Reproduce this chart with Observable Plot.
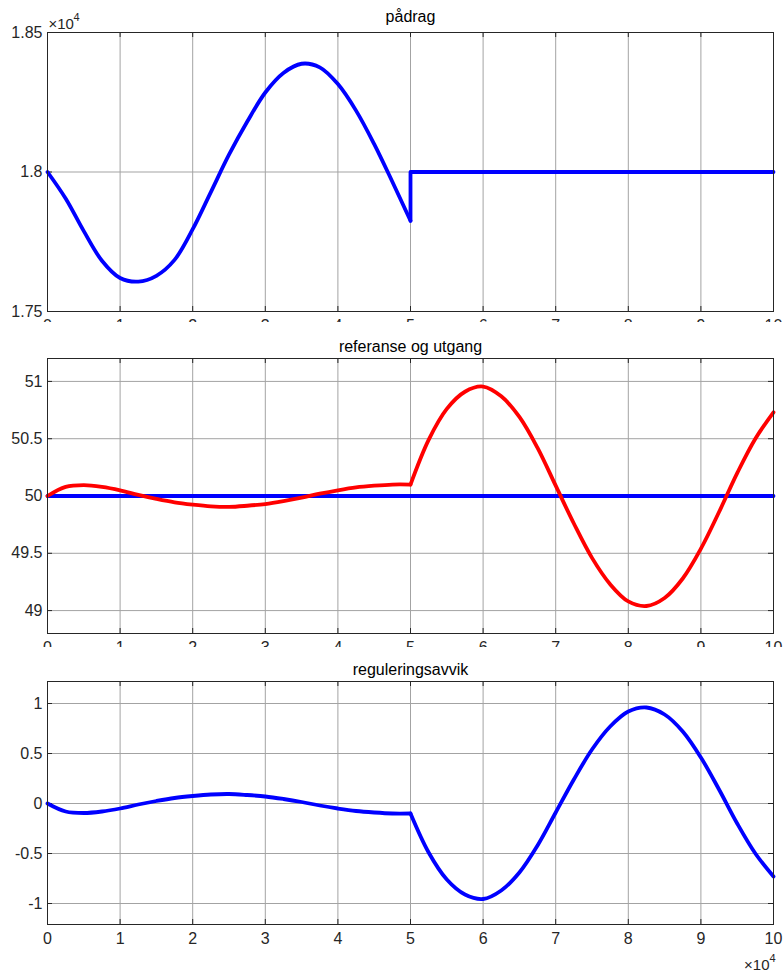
<!DOCTYPE html>
<html><head><meta charset="utf-8">
<script src="https://cdn.jsdelivr.net/npm/d3@7"></script>
<script src="https://cdn.jsdelivr.net/npm/@observablehq/plot@0.6"></script>
<style>
body{margin:0;background:#fff;}
#fig{position:relative;width:783px;height:973px;background:#fff;overflow:hidden;}
#fig svg{position:absolute;left:0;display:block;}
</style></head><body><div id="fig"></div>
<script>
// ---- data (time in seconds, plotted as ×10^4) ----
const xTicks = [0,10000,20000,30000,40000,50000,60000,70000,80000,90000,100000];
const tA = [0,2500,5000,7500,10000,12500,15000,17500,20000,22500,25000,27500,30000,32500,35000,37500,40000,42500,45000,47500,50000];
const tB = [50000,52500,55000,57500,60000,62500,65000,67500,70000,72500,75000,77500,80000,82500,85000,87500,90000,92500,95000,97500,100000];

// pådrag
const padragA = [18000,17905,17788,17682,17620,17607,17628,17685,17795,17928,18062,18180,18285,18355,18388,18375,18315,18220,18100,17965,17825];
const padragStepT = [50000,50000,100000];
const padragStepV = [17825,18000,18000];
const padragTicks = [17500,18000,18500];

// referanse og utgang
const refT = [0,100000];
const refV = [50,50];
const utgangA = [50,50.08,50.095,50.08,50.05,50.01,49.975,49.945,49.925,49.91,49.905,49.915,49.93,49.955,49.985,50.02,50.05,50.075,50.09,50.1,50.1];
const utgangB = [50.1,50.49,50.76,50.91,50.955,50.87,50.69,50.42,50.09,49.76,49.46,49.23,49.08,49.04,49.11,49.28,49.54,49.86,50.2,50.5,50.73];
const refTicks = [49,49.5,50,50.5,51];

// reguleringsavvik
const avvikA = [0,-0.08,-0.095,-0.08,-0.05,-0.01,0.025,0.055,0.075,0.09,0.095,0.085,0.07,0.045,0.015,-0.02,-0.05,-0.075,-0.09,-0.1,-0.1];
const avvikB = [-0.1,-0.49,-0.76,-0.91,-0.955,-0.87,-0.69,-0.42,-0.09,0.24,0.54,0.77,0.92,0.96,0.89,0.72,0.46,0.14,-0.2,-0.5,-0.73];
const avvikTicks = [-1,-0.5,0,0.5,1];

// ---- drawing ----
const FONT = "'Liberation Sans', Arial, Helvetica, sans-serif";
const GRID = "#a3a3a3";
const AXIS = "#262626";
const BLUE = "#0000ff";
const RED = "#ff0000";
const zip = (t, v) => t.map((x, i) => ({t: x, v: v[i]}));
const fig = document.getElementById("fig");

function panel(o) {
  const [y0, y1] = o.yDomain;
  const fh = o.height - o.marginTop - o.marginBottom;
  const xLen = 5 * 100000 / 726;
  const yLen = 5 * (y1 - y0) / fh;
  const marks = [
    Plot.gridX(xTicks, {stroke: GRID, strokeOpacity: 1, strokeWidth: 1}),
    Plot.gridY(o.yTicks, {stroke: GRID, strokeOpacity: 1, strokeWidth: 1}),
    Plot.ruleX(xTicks, {y1: y0, y2: y0 + yLen, stroke: AXIS}),
    Plot.ruleX(xTicks, {y1: y1 - yLen, y2: y1, stroke: AXIS}),
    Plot.ruleY(o.yTicks, {x1: 0, x2: xLen, stroke: AXIS}),
    Plot.ruleY(o.yTicks, {x1: 100000 - xLen, x2: 100000, stroke: AXIS}),
    ...o.lines,
    Plot.frame({stroke: AXIS, strokeWidth: 1}),
    Plot.axisX(xTicks, {tickFormat: d => String(d / 1e4), tickSize: 0, tickPadding: 8, label: null, fill: AXIS}),
    Plot.axisY(o.yTicks, {tickFormat: o.yFmt, tickSize: 0, tickPadding: 5, label: null, fill: AXIS}),
    Plot.text([o.title], {text: d => d, frameAnchor: "top", lineAnchor: "middle", dy: o.titleDy, fontSize: 16, fill: "#000"})
  ];
  if (o.topExp) {
    marks.push(Plot.text(["×10"], {text: d => d, frameAnchor: "top-left", textAnchor: "start", lineAnchor: "bottom", dx: 1, dy: -4, fontSize: 15, fill: AXIS}));
    marks.push(Plot.text(["4"], {text: d => d, frameAnchor: "top-left", textAnchor: "start", lineAnchor: "bottom", dx: 26, dy: -12, fontSize: 11, fill: AXIS}));
  }
  if (o.bottomExp) {
    marks.push(Plot.text(["×10"], {text: d => d, frameAnchor: "bottom-right", textAnchor: "end", lineAnchor: "bottom", dx: -4, dy: 45, fontSize: 15, fill: AXIS}));
    marks.push(Plot.text(["4"], {text: d => d, frameAnchor: "bottom-right", textAnchor: "start", lineAnchor: "bottom", dx: -4, dy: 37, fontSize: 11, fill: AXIS}));
  }
  const svg = Plot.plot({
    width: 783, height: o.height,
    marginTop: o.marginTop, marginBottom: o.marginBottom, marginLeft: 47, marginRight: 10,
    x: {type: "linear", domain: [0, 100000]},
    y: {type: "linear", domain: o.yDomain},
    style: {fontFamily: FONT, fontSize: "16px", color: AXIS, background: "#fff", overflow: "hidden"},
    marks
  });
  svg.style.top = o.top + "px";
  fig.appendChild(svg);
}

const lw = 3.8;
const curveOpts = {x: "t", y: "v", strokeWidth: lw, curve: "catmull-rom", strokeLinejoin: "round", strokeLinecap: "round"};
panel({
  top: 0, height: 322, marginTop: 32, marginBottom: 11, titleDy: -16,
  yDomain: [17500, 18500], yTicks: padragTicks, yFmt: d => String(d / 1e4),
  title: "pådrag", topExp: true,
  lines: [
    Plot.line(zip(tA, padragA), {...curveOpts, stroke: BLUE}),
    Plot.line(zip(padragStepT, padragStepV), {x: "t", y: "v", stroke: BLUE, strokeWidth: lw, strokeLinejoin: "round", strokeLinecap: "round"})
  ]
});
panel({
  top: 322, height: 325, marginTop: 36, marginBottom: 14, titleDy: -12,
  yDomain: [48.8, 51.2], yTicks: refTicks, yFmt: d => String(d),
  title: "referanse og utgang",
  lines: [
    Plot.line(zip(refT, refV), {x: "t", y: "v", stroke: BLUE, strokeWidth: lw}),
    Plot.line(zip(tA, utgangA), {...curveOpts, stroke: RED}),
    Plot.line(zip(tB, utgangB), {...curveOpts, stroke: RED})
  ]
});
panel({
  top: 647, height: 326, marginTop: 34, marginBottom: 49, titleDy: -12,
  yDomain: [-1.21, 1.22], yTicks: avvikTicks, yFmt: d => String(d),
  title: "reguleringsavvik", bottomExp: true,
  lines: [
    Plot.line(zip(tA, avvikA), {...curveOpts, stroke: BLUE}),
    Plot.line(zip(tB, avvikB), {...curveOpts, stroke: BLUE})
  ]
});
</script></body></html>
